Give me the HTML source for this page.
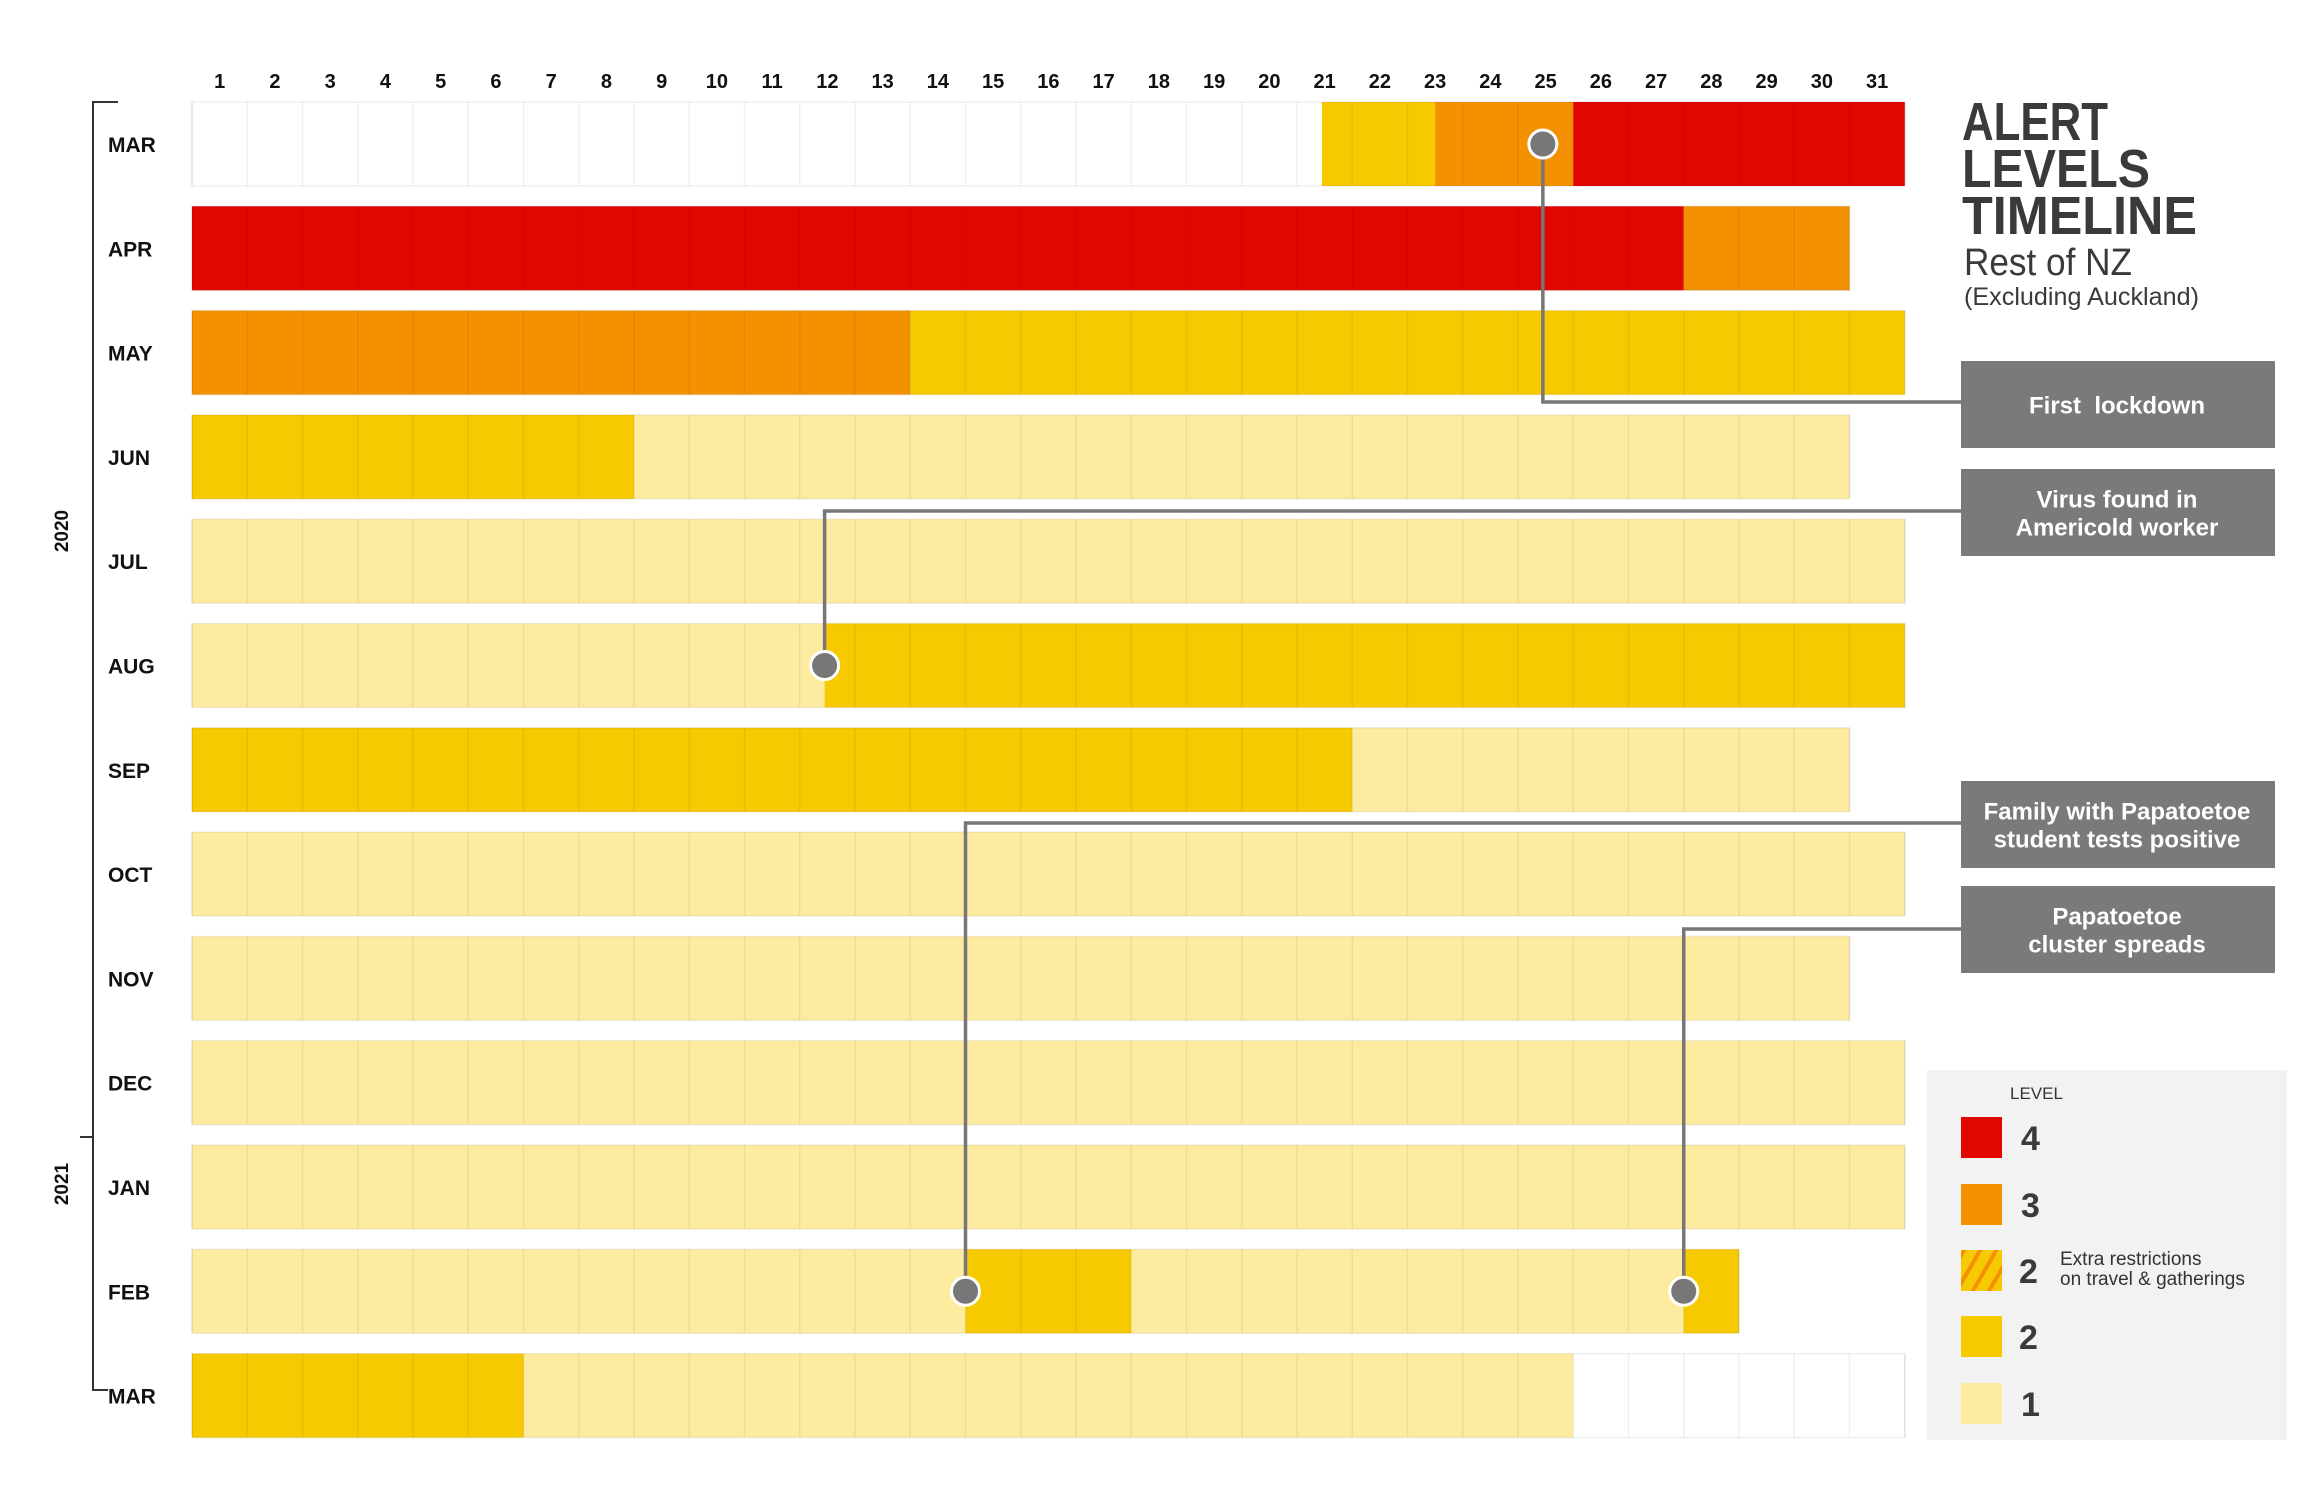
<!DOCTYPE html>
<html><head><meta charset="utf-8"><style>
html,body{margin:0;padding:0;background:#fff;}
svg{display:block;font-family:"Liberation Sans",sans-serif;}
</style></head><body>
<svg id="chart" width="2300" height="1491" viewBox="0 0 2300 1491" xmlns="http://www.w3.org/2000/svg">
<g id="grid"></g>
<g id="labels"></g>
<g stroke="#333" stroke-width="2" fill="none">
<path d="M118 102 H93 V1137 H80"/>
<path d="M93 1137 V1390 H108"/>
</g>
<text x="68" y="531" transform="rotate(-90 68 531)" text-anchor="middle" font-size="19" font-weight="bold" fill="#111">2020</text>
<text x="68" y="1184" transform="rotate(-90 68 1184)" text-anchor="middle" font-size="19" font-weight="bold" fill="#111">2021</text>
<g fill="#3a3a3a">
<text x="1962" y="140" font-size="54" font-weight="bold" textLength="146" lengthAdjust="spacingAndGlyphs">ALERT</text>
<text x="1962" y="187" font-size="54" font-weight="bold" textLength="188" lengthAdjust="spacingAndGlyphs">LEVELS</text>
<text x="1962" y="234" font-size="54" font-weight="bold" textLength="235" lengthAdjust="spacingAndGlyphs">TIMELINE</text>
<text x="1964" y="275" font-size="38" textLength="168" lengthAdjust="spacingAndGlyphs">Rest of NZ</text>
<text x="1964" y="305" font-size="25" textLength="235" lengthAdjust="spacingAndGlyphs">(Excluding Auckland)</text>
</g>
<g id="annots"></g>
<g>
<rect x="1927" y="1070" width="360" height="370" fill="#f2f2f2"/>
<text x="2010" y="1099" font-size="17" fill="#333">LEVEL</text>
<defs><pattern id="hatch" width="14" height="14" patternUnits="userSpaceOnUse" patternTransform="rotate(30)"><rect width="14" height="14" fill="#f6c900"/><rect width="4" height="14" fill="#f39100"/></pattern></defs>
<rect x="1961" y="1117" width="41" height="41" fill="#e10600"/>
<text x="2021" y="1150" font-size="34" font-weight="bold" fill="#3a3a3a">4</text>
<rect x="1961" y="1184" width="41" height="41" fill="#f39100"/>
<text x="2021" y="1217" font-size="34" font-weight="bold" fill="#3a3a3a">3</text>
<rect x="1961" y="1250" width="41" height="41" fill="url(#hatch)"/>
<text x="2019" y="1283" font-size="34" font-weight="bold" fill="#3a3a3a">2</text>
<text x="2060" y="1265" font-size="19" fill="#333">Extra restrictions</text>
<text x="2060" y="1285" font-size="19" fill="#333">on travel &amp; gatherings</text>
<rect x="1961" y="1316" width="41" height="41" fill="#f6c900"/>
<text x="2019" y="1349" font-size="34" font-weight="bold" fill="#3a3a3a">2</text>
<rect x="1961" y="1383" width="41" height="41" fill="#fdeba0"/>
<text x="2021" y="1416" font-size="34" font-weight="bold" fill="#3a3a3a">1</text>
</g>
</svg>
<script>
const months = ["MAR","APR","MAY","JUN","JUL","AUG","SEP","OCT","NOV","DEC","JAN","FEB","MAR"];
const monthDays = [31,30,31,30,31,31,30,31,30,31,31,28,31];
// segments per month: [start day offset (0 = start of day 1), level]; 0 = no level
const segMar20 = [[0,0],[20.45,2],[22.5,3],[25,4]];
const segApr20 = [[0,4],[27,3]];
const segMay20 = [[0,3],[13,2]];
const segJun20 = [[0,2],[8,1]];
const segJul20 = [[0,1]];
const segAug20 = [[0,1],[11.45,2]];
const segSep20 = [[0,2],[21,1]];
const segOct20 = [[0,1]];
const segNov20 = [[0,1]];
const segDec20 = [[0,1]];
const segJan21 = [[0,1]];
const segFeb21 = [[0,1],[14,2],[17,1],[27,2]];
const segMar21 = [[0,2],[6,1],[25,0]];
const segments = [segMar20,segApr20,segMay20,segJun20,segJul20,segAug20,segSep20,segOct20,segNov20,segDec20,segJan21,segFeb21,segMar21];
const dayTicks = ["1","2","3","4","5","6","7","8","9","10","11","12","13","14","15","16","17","18","19","20","21","22","23","24","25","26","27","28","29","30","31"];
// events: [month row, day offset of dot, label lines]
const eventRows = [0,5,11,11];
const eventDays = [24.45,11.45,14,27];
const eventLines = [402,511,823,929];
const eventText = [["First\u00a0\u00a0lockdown"],["Virus found in","Americold worker"],["Family with Papatoetoe","student tests positive"],["Papatoetoe","cluster spreads"]];
const boxTops = [361,469,781,886];

const colors = {0:"#ffffff",1:"#fdeba0",2:"#f6c900",3:"#f39100",4:"#e10600"};
const X0=192, CW=55.25, Y0=102, PITCH=104.3, RH=84;
const xs = d => X0 + d*CW;
const ys = r => Y0 + r*PITCH;
const NS="http://www.w3.org/2000/svg";
function mk(tag, attrs, parent){const e=document.createElementNS(NS,tag);for(const k in attrs)e.setAttribute(k,attrs[k]);parent.appendChild(e);return e;}
const grid=document.getElementById('grid'), labels=document.getElementById('labels'), annots=document.getElementById('annots');

dayTicks.forEach((t,i)=>{
  const e=mk('text',{x:xs(i+0.5),y:88,'text-anchor':'middle','font-size':20,'font-weight':'bold',fill:'#111'},labels);
  
  
  e.textContent=t;
});
months.forEach((m,r)=>{
  const e=mk('text',{x:108,y:ys(r)+RH/2+8,'font-size':21,'font-weight':'bold',fill:'#111'},labels);
  
  
  e.textContent=m;
  const segs=segments[r], n=monthDays[r];
  segs.forEach((s,i)=>{
    const end = i+1<segs.length ? segs[i+1][0] : n;
    const rc=mk('rect',{x:xs(s[0]),y:ys(r),width:xs(end)-xs(s[0]),height:RH,fill:colors[s[1]]},grid);
    
    
  });
  for(let d=0; d<=n; d++){
    const ln=mk('line',{x1:xs(d),x2:xs(d),y1:ys(r),y2:ys(r)+RH,stroke:'rgba(0,0,0,0.06)','stroke-width':1.5},grid);
    
    
  }
  const bd=mk('rect',{x:xs(0),y:ys(r),width:xs(n)-xs(0),height:RH,fill:'none',stroke:'rgba(0,0,0,0.06)','stroke-width':1.5},grid);
  
  
});
eventRows.forEach((r,i)=>{
  const cx=xs(eventDays[i]), cy=ys(r)+RH/2, ly=eventLines[i];
  const p=mk('path',{d:`M${cx} ${cy} V${ly} H1961`,stroke:'#777','stroke-width':3.5,fill:'none'},annots);
  
  
  const c=mk('circle',{cx:cx,cy:cy,r:14,fill:'#777',stroke:'#fff','stroke-width':3},annots);
  
  
  const b=mk('rect',{x:1961,y:boxTops[i],width:314,height:87,fill:'#7a7a7a'},annots);
  
  
  const lines=eventText[i];
  lines.forEach((t,j)=>{
    const yy = boxTops[i]+43.5 + (lines.length===1?9:(j===0?-5:23));
    const tx=mk('text',{x:2117,y:yy,'text-anchor':'middle','font-size':24,'font-weight':'bold',fill:'#fff'},annots);
    
    
    tx.textContent=t;
  });
});
</script>
</body></html>
